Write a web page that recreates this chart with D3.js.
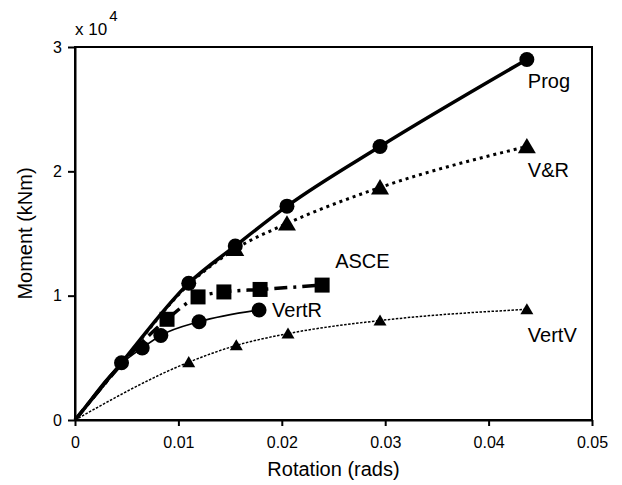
<!DOCTYPE html>
<html>
<head>
<meta charset="utf-8">
<script src="https://cdn.jsdelivr.net/npm/d3@7"></script>
<style>
  html, body { margin: 0; padding: 0; background: #fff; }
  svg { display: block; font-family: "Liberation Sans", Arial, sans-serif; }
</style>
</head>
<body>
<svg id="chart" width="622" height="485"></svg>
<script>
// Moment–rotation curves for five connection models
const progData  = [[0, 0], [0.0045, 4600], [0.011, 11000], [0.0155, 14000], [0.0205, 17200], [0.0295, 22000], [0.0437, 29000]];
const vrData    = [[0, 0], [0.0045, 4550], [0.011, 10900], [0.0155, 13750], [0.0205, 15800], [0.0295, 18700], [0.0437, 22000]];
const asceData  = [[0, 0], [0.0089, 8100], [0.0119, 9900], [0.0144, 10300], [0.0179, 10500], [0.0239, 10850]];
const vertRData = [[0, 0], [0.0045, 4550], [0.0065, 5800], [0.0083, 6800], [0.012, 7900], [0.0178, 8850]];
const vertVData = [[0, 0], [0.011, 4650], [0.0156, 6000], [0.0206, 6950], [0.0295, 8000], [0.0437, 8900]];

const xTicks = [0, 0.01, 0.02, 0.03, 0.04, 0.05];
const xTickLabels = ["0", "0.01", "0.02", "0.03", "0.04", "0.05"];
const yTicks = [0, 10000, 20000, 30000];
const yTickLabels = ["0", "1", "2", "3"];
const seriesNames = ["Prog", "V&R", "ASCE", "VertR", "VertV"];

const svg = d3.select("#chart");
const plotL = 75, plotR = 592, plotT = 47, plotB = 420;

const x = d3.scaleLinear().domain([0, 0.05]).range([plotL, plotR]);
const y = d3.scaleLinear().domain([0, 30000]).range([plotB, plotT]);

// frame
svg.append("rect")
  .attr("x", plotL).attr("y", plotT)
  .attr("width", plotR - plotL).attr("height", plotB - plotT)
  .attr("fill", "none").attr("stroke", "#000").attr("stroke-width", 2);

// axes
const xAxis = d3.axisBottom(x).tickValues(xTicks)
  .tickFormat((d, i) => xTickLabels[i]).tickSize(6).tickSizeOuter(0).tickPadding(11);
const yAxis = d3.axisLeft(y).tickValues(yTicks)
  .tickFormat((d, i) => yTickLabels[i]).tickSize(7).tickSizeOuter(0).tickPadding(6);

const gx = svg.append("g").attr("transform", `translate(0,${plotB})`).call(xAxis);
const gy = svg.append("g").attr("transform", `translate(${plotL},0)`).call(yAxis);
[gx, gy].forEach(g => {
  g.select(".domain").attr("stroke", "#000").attr("stroke-width", 2);
  g.selectAll(".tick line").attr("stroke", "#000").attr("stroke-width", 2);
  g.selectAll(".tick text").attr("fill", "#000").attr("font-size", 16)
    .attr("font-family", "'Liberation Sans', Arial, sans-serif");
});

// exponent note above the y axis
const expo = svg.append("text").attr("x", plotL).attr("y", 35)
  .attr("font-size", 17).attr("fill", "#000");
expo.append("tspan").text("x 10");
expo.append("tspan").attr("dx", 2).attr("dy", -14).attr("font-size", 15).text("4");

// axis titles
svg.append("text")
  .attr("x", (plotL + plotR) / 2).attr("y", 476)
  .attr("text-anchor", "middle").attr("font-size", 20).attr("fill", "#000")
  .text("Rotation (rads)");
svg.append("text")
  .attr("transform", `translate(32,${(plotT + plotB) / 2}) rotate(-90)`)
  .attr("text-anchor", "middle").attr("font-size", 20).attr("fill", "#000")
  .text("Moment (kNm)");

const line = d3.line().x(d => x(d[0])).y(d => y(d[1])).curve(d3.curveMonotoneX);

const series = [
  { name: seriesNames[4], data: vertVData, width: 1.5, dash: "2.5,1.5", marker: "triangle", size: 13, skip: [0], lx: 1, ly: 33 },
  { name: seriesNames[3], data: vertRData, width: 1.6, dash: null, marker: "circle", size: 15, skip: [0, 1], lx: 13, ly: 7 },
  { name: seriesNames[2], data: asceData, width: 3.5, dash: "13,6,3,6", marker: "square", size: 15, skip: [0], lx: 13, ly: -17 },
  { name: seriesNames[1], data: vrData, width: 3, dash: "3,4", marker: "triangle", size: 18, skip: [0, 1, 2], lx: 1, ly: 31 },
  { name: seriesNames[0], data: progData, width: 3.5, dash: null, marker: "circle", size: 15, skip: [0], lx: 1, ly: 29 }
];

series.forEach(s => {
  svg.append("path").datum(s.data)
    .attr("d", line)
    .attr("fill", "none").attr("stroke", "#000")
    .attr("stroke-width", s.width)
    .attr("stroke-dasharray", s.dash)
    .attr("stroke-linejoin", "round");

  const pts = s.data.filter((d, i) => !s.skip.includes(i));
  const g = svg.append("g");
  if (s.marker === "circle") {
    g.selectAll("circle").data(pts).join("circle")
      .attr("cx", d => x(d[0])).attr("cy", d => y(d[1]))
      .attr("r", s.size / 2).attr("fill", "#000");
  } else if (s.marker === "square") {
    g.selectAll("rect").data(pts).join("rect")
      .attr("x", d => x(d[0]) - s.size / 2).attr("y", d => y(d[1]) - s.size / 2)
      .attr("width", s.size).attr("height", s.size).attr("fill", "#000");
  } else {
    const w = s.size, h = s.size * 0.85;
    g.selectAll("path").data(pts).join("path")
      .attr("d", d => {
        const cx = x(d[0]), cy = y(d[1]);
        return `M${cx},${cy - h * 0.55}L${cx + w / 2},${cy + h * 0.45}L${cx - w / 2},${cy + h * 0.45}Z`;
      })
      .attr("fill", "#000");
  }

  const last = s.data[s.data.length - 1];
  svg.append("text")
    .attr("x", x(last[0]) + s.lx).attr("y", y(last[1]) + s.ly)
    .attr("font-size", 20).attr("fill", "#000")
    .text(s.name);
});
</script>
</body>
</html>
